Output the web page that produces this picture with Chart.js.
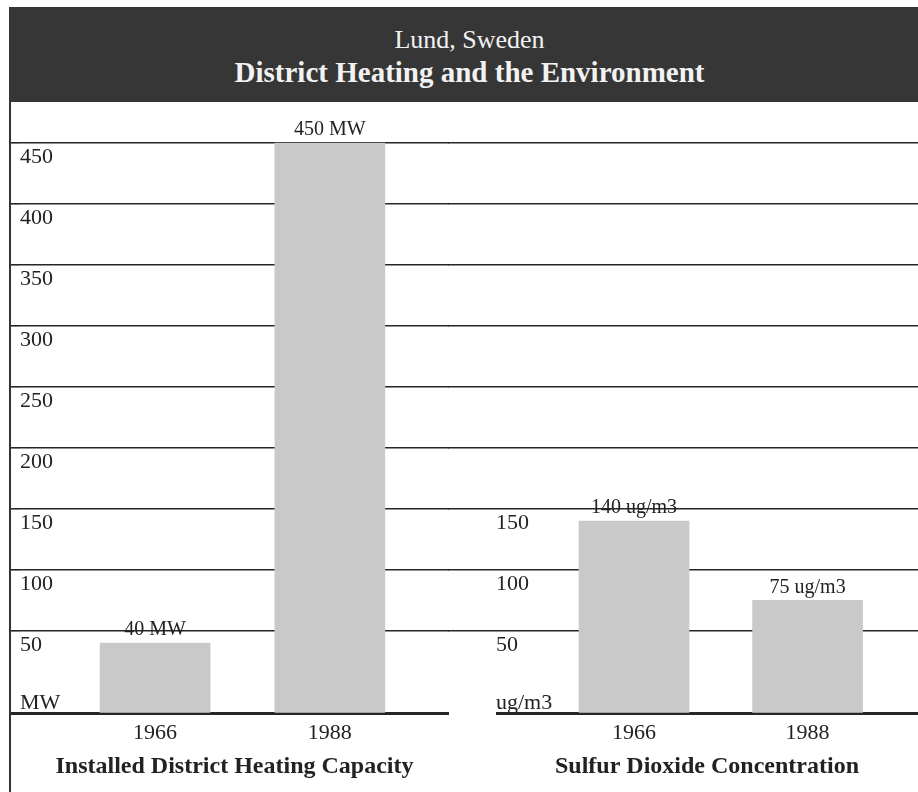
<!DOCTYPE html>
<html>
<head>
<meta charset="utf-8">
<script src="https://cdn.jsdelivr.net/npm/chart.js@4.4.1/dist/chart.umd.min.js"></script>
<style>
body{margin:0;background:#fff;}
#page{position:relative;width:918px;height:792px;overflow:hidden;font-family:"Liberation Serif","Times New Roman",serif;}
#banner{position:absolute;left:9px;top:7px;width:909px;height:95px;background:#363636;color:#f2f2f2;}
#banner .sub{position:absolute;left:12px;right:0;top:19px;text-align:center;font-size:26px;line-height:28px;}
#banner .main{position:absolute;left:12px;right:0;top:49px;text-align:center;font-size:29px;line-height:32px;font-weight:bold;}
#frame{position:absolute;left:9px;top:102px;width:0;height:690px;border-left:2px solid #333;}
#capChart{position:absolute;left:10px;top:102px;}
#so2Chart{position:absolute;left:448px;top:102px;}
</style>
</head>
<body>
<div id="page">
  <div id="banner">
    <div class="sub">Lund, Sweden</div>
    <div class="main">District Heating and the Environment</div>
  </div>
  <canvas id="capChart" width="439" height="690"></canvas>
  <canvas id="so2Chart" width="470" height="690"></canvas>
  <div id="frame"></div>
</div>
<script>
const byId = (id)=>document.getElementById(id);

// ----- data -----
const years = [1966, 1988];
const capacityMW = [40, 450];
const so2Conc = [140, 75];
const gridValues = [50, 100, 150, 200, 250, 300, 350, 400, 450];
const so2Labelled = [50, 100, 150];

// shared value axis (both panels use the same ruling)
const yMin = -18, yMax = 483.6;
const unitTick = 2;   // where the unit name sits, just above the baseline

Chart.defaults.font.family = '"Liberation Serif", "Times New Roman", serif';
Chart.defaults.color = "#222";

const LINE = "#262626";
const CLEAR = "rgba(0,0,0,0)";

// value text above each bar
const valueLabels = {
  id: "valueLabels",
  afterDraw(chart, args, opts){
    const ctx = chart.ctx;
    const vals = chart.data.datasets[0].data;
    chart.getDatasetMeta(0).data.forEach((bar, i)=>{
      ctx.save();
      ctx.font = '20px "Liberation Serif", serif';
      ctx.fillStyle = "#222";
      ctx.textAlign = "center";
      ctx.textBaseline = "bottom";
      ctx.fillText(vals[i] + " " + opts.unit, bar.x, bar.y - 3);
      ctx.restore();
    });
  }
};

function panel(id, values, o){
  return new Chart(byId(id), {
    type: "bar",
    data: { labels: years, datasets: [{ data: values, base: yMin, backgroundColor: "#c9c9c9", barThickness: 110 }] },
    options: {
      responsive: false, animation: false,
      layout: { padding: 0, autoPadding: false },
      plugins: { legend: {display:false}, tooltip: {enabled:false}, valueLabels: { unit: o.unit } },
      scales: {
        x: {
          type: "linear", min: o.xMin, max: o.xMax, offset: false,
          afterBuildTicks: (s)=>{ s.ticks = years.map(v=>({value:v})); },
          grid: { display:false, drawTicks:false, tickLength:0 }, border: { display:false },
          ticks: { callback: (v)=>String(v), font:{size:22}, padding:6, maxRotation:0, autoSkip:false },
          title: { display:true, text:o.title, font:{size:24, weight:"bold"}, padding:{top:0, bottom:11} }
        },
        y: {
          min: yMin, max: yMax, z: 1,
          afterBuildTicks: (s)=>{ s.ticks = [yMin, unitTick, ...gridValues].map(v=>({value:v})); },
          afterFit: (s)=>{ s.width = o.axisW; },
          border: { display:false },
          grid: {
            tickLength: o.axisW,
            color: (c)=> c.tick.value === unitTick ? CLEAR : LINE,
            lineWidth: (c)=> c.tick.value === yMin ? 3 : 1.6,
            tickColor: (c)=> (c.tick.value === unitTick || (c.tick.value === yMin && !o.baseTick)) ? CLEAR : LINE
          },
          ticks: { mirror:true, align:"start", padding:0, labelOffset:3, font:{size:22}, callback:o.label }
        }
      }
    },
    plugins: [valueLabels]
  });
}

panel("capChart", capacityMW, {
  unit: "MW", title: "Installed District Heating Capacity",
  xMin: 1949, xMax: 2003, axisW: 10, baseTick: true,
  label: (v)=> v === yMin ? "" : v === unitTick ? "MW" : String(v)
});

panel("so2Chart", so2Conc, {
  unit: "ug/m3", title: "Sulfur Dioxide Concentration",
  xMin: 1948.5, xMax: 2002, axisW: 48, baseTick: false,
  label: (v)=> v === yMin ? "" : v === unitTick ? "ug/m3" : (so2Labelled.includes(v) ? String(v) : "")
});
</script>
</body>
</html>
